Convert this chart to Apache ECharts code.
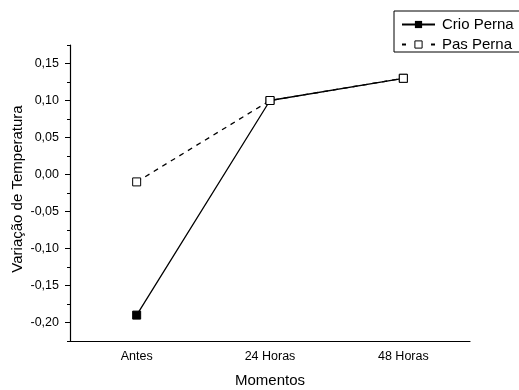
<!DOCTYPE html>
<html>
<head>
<meta charset="utf-8">
<script src="https://cdn.jsdelivr.net/npm/echarts@6/dist/echarts.min.js"></script>
<style>
  html, body { margin: 0; padding: 0; background: #fff; }
  #chart { width: 519px; height: 390px; }
</style>
</head>
<body>
<div id="chart"></div>
<script>
// Temperature variation by moment, two groups
const categories = ['Antes', '24 Horas', '48 Horas'];
const crioPerna = [-0.19, 0.10, 0.13];
const pasPerna = [-0.01, 0.10, 0.13];
const majorTicks = [-0.20, -0.15, -0.10, -0.05, 0.00, 0.05, 0.10, 0.15];
const minorTicks = [-0.225, -0.175, -0.125, -0.075, -0.025, 0.025, 0.075, 0.125, 0.175];

const font = 'Liberation Sans, Arial, sans-serif';
const fmt = v => v.toFixed(2).replace('.', ',');

const chart = echarts.init(document.getElementById('chart'));
chart.setOption({
  animation: false,
  backgroundColor: '#fff',
  grid: { left: 70, right: 49, top: 45, bottom: 49, containLabel: false, outerBoundsMode: 'none' },
  legend: {
    orient: 'vertical',
    left: 394,
    top: 11,
    padding: [6, 30, 0, 7],
    itemGap: 5,
    itemWidth: 33,
    itemHeight: 9,
    borderColor: '#000',
    borderWidth: 1,
    borderRadius: 0,
    textStyle: { fontFamily: font, fontSize: 15, color: '#000', padding: [0, 0, 0, 2] },
    data: [
      { name: 'Crio Perna' },
      { name: 'Pas Perna', lineStyle: { type: [4, 25] }, itemStyle: { borderWidth: 1 } }
    ]
  },
  xAxis: [
    {
      type: 'category',
      data: categories,
      boundaryGap: true,
      name: 'Momentos',
      nameLocation: 'middle',
      nameGap: 32,
      nameMoveOverlap: false,
      nameTextStyle: { fontFamily: font, fontSize: 15, color: '#000' },
      axisLine: { onZero: false, lineStyle: { color: '#000', width: 1.2 } },
      axisTick: { alignWithLabel: true, length: 5, lineStyle: { color: '#000' } },
      axisLabel: { fontFamily: font, fontSize: 12.5, color: '#000', margin: 9 },
      splitLine: { show: false }
    },
    {
      type: 'category',
      data: categories,
      position: 'bottom',
      boundaryGap: true,
      axisLine: { show: false, onZero: false },
      axisTick: { length: 3, lineStyle: { color: '#000' } },
      axisLabel: { show: false },
      splitLine: { show: false }
    }
  ],
  yAxis: [
    {
      type: 'value',
      min: -0.225,
      max: 0.175,
      name: 'Variação de Temperatura',
      nameLocation: 'middle',
      nameGap: 45,
      nameMoveOverlap: false,
      nameTextStyle: { fontFamily: font, fontSize: 15, color: '#000', padding: [0, 0, 0, 8] },
      axisLine: { show: true, onZero: false, lineStyle: { color: '#000', width: 1.2 } },
      axisTick: { show: true, length: 5, customValues: majorTicks, lineStyle: { color: '#000' } },
      axisLabel: { fontFamily: font, fontSize: 12.5, color: '#000', margin: 11, customValues: majorTicks, formatter: fmt },
      splitLine: { show: false }
    },
    {
      type: 'value',
      min: -0.225,
      max: 0.175,
      position: 'left',
      axisLine: { show: false, onZero: false },
      axisTick: { show: true, length: 3, customValues: minorTicks, lineStyle: { color: '#000' } },
      axisLabel: { show: false },
      splitLine: { show: false }
    }
  ],
  series: [
    {
      name: 'Crio Perna',
      type: 'line',
      data: crioPerna,
      symbol: 'rect',
      symbolSize: 8,
      color: '#000',
      lineStyle: { color: '#000', width: 1.3 },
      itemStyle: { color: '#000', borderColor: '#000' },
      z: 2
    },
    {
      name: 'Pas Perna',
      type: 'line',
      data: pasPerna,
      symbol: 'rect',
      symbolSize: 8,
      color: '#000',
      lineStyle: { color: '#000', width: 1.3, type: [5, 5] },
      itemStyle: { color: '#fff', borderColor: '#000', borderWidth: 1 },
      z: 3
    }
  ]
});
</script>
</body>
</html>
